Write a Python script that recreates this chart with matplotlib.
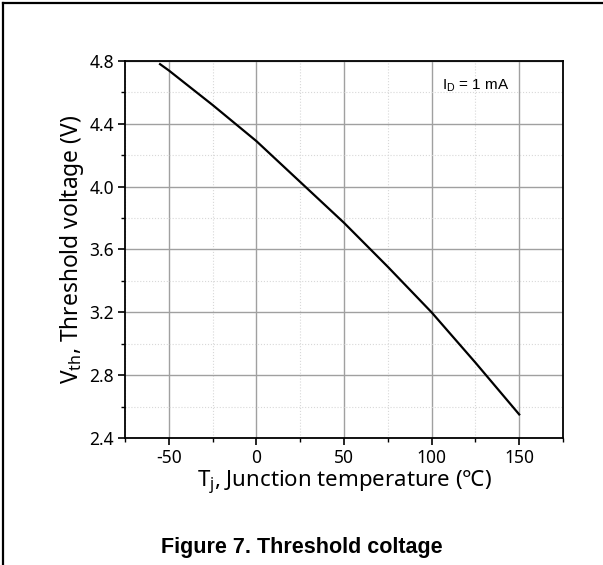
import matplotlib
matplotlib.use("Agg")
import matplotlib.pyplot as plt
from matplotlib.ticker import MultipleLocator
from matplotlib.lines import Line2D
import numpy as np

plt.rcParams['axes.unicode_minus'] = False

temp = [-55, -50, -25, 0, 25, 50, 75, 100, 125, 150]
vth = [4.78, 4.74, 4.52, 4.29, 4.03, 3.77, 3.49, 3.20, 2.88, 2.55]

W, H = 603, 565
fig = plt.figure(figsize=(W/100, H/100), dpi=100)
ax = fig.add_axes([125/W, 1-438/H, (563-125)/W, (438-61)/H])

fam = ['Noto Sans', 'DejaVu Sans']
ax.plot(temp, vth, color='black', lw=1.6)
ax.set_xlim(-75, 175)
ax.set_ylim(2.4, 4.8)
ax.xaxis.set_major_locator(MultipleLocator(50))
ax.xaxis.set_minor_locator(MultipleLocator(25))
ax.yaxis.set_major_locator(MultipleLocator(0.4))
ax.yaxis.set_minor_locator(MultipleLocator(0.2))
ax.yaxis.set_major_formatter(plt.FuncFormatter(lambda v, p: f"{v:.1f}"))
ax.grid(which='major', color='#a0a0a0', lw=1.0)
ax.grid(which='minor', color='#d8d8d8', lw=0.8, ls=':')
ax.set_axisbelow(True)
for s in ax.spines.values():
    s.set_linewidth(1.3)
ax.tick_params(which='major', direction='out', length=5, width=1.2, labelsize=12.5, pad=3)
ax.tick_params(which='minor', direction='out', length=3, width=1.0)
for lab in ax.get_xticklabels() + ax.get_yticklabels():
    lab.set_family(fam)

ax.set_xlabel("T$_\\mathregular{j}$, Junction temperature (℃)", fontsize=16, family=fam, labelpad=1)
ax.set_ylabel("V$_\\mathregular{th}$, Threshold voltage (V)", fontsize=16.4, family=fam, labelpad=2)
ax.text(0.80, 0.935, "I$_\\mathregular{D}$ = 1 mA", transform=ax.transAxes, fontsize=11,
        family=['Liberation Sans'], ha='center', va='center')

fig.text(0.5, 1-548/H, "Figure 7. Threshold coltage", ha='center', va='center',
         fontsize=15.5, fontweight='bold', family=['Liberation Sans'])

fig.add_artist(Line2D([3/W, 1], [1-3/H, 1-3/H], color='black', lw=1.6, transform=fig.transFigure))
fig.add_artist(Line2D([3/W, 3/W], [0, 1-3/H], color='black', lw=1.6, transform=fig.transFigure))

fig.savefig("out.png", dpi=100)
